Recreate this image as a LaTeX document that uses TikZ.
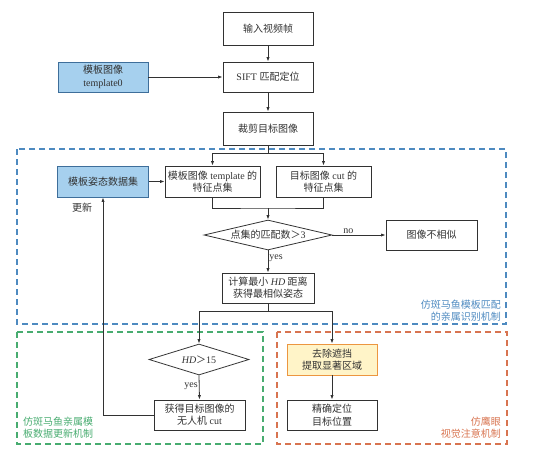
\documentclass[tikz,border=0pt]{standalone}
\usepackage{fontspec}
\setmainfont{Liberation Serif}
\newfontfamily\cjk{Noto Sans CJK SC}
\usepackage{tikz}
\usetikzlibrary{calc,shapes,positioning}
\usetikzlibrary{arrows.meta}
\tikzset{>={Latex[width=3.2pt,length=4.5pt]}}
\definecolor{boxblue}{RGB}{166,208,238}
\definecolor{lineblue}{RGB}{78,138,192}
\definecolor{boxyellow}{RGB}{255,244,200}
\definecolor{lineorange}{RGB}{236,150,64}
\definecolor{framegreen}{RGB}{72,172,112}
\definecolor{frameorange}{RGB}{216,116,80}
\definecolor{ink}{RGB}{50,50,50}

\begin{document}
\begin{tikzpicture}[x=1pt,y=-1pt,font=\fontsize{10}{12.3}\selectfont,text=ink]
        \tikzstyle{bnode} = [thick, draw=ink, rectangle, minimum width=90pt, minimum height=31pt, inner sep=2pt, align=center]
        \tikzstyle{tnode} = [bnode, fill=boxblue, draw=lineblue!80!black]
        \tikzstyle{ynode} = [bnode, fill=boxyellow, draw=lineorange]
        \tikzstyle{dnode} = [thick, draw=ink, diamond, inner sep=0pt, align=center]
        \tikzstyle{frame} = [line width=1.1pt, dash pattern=on 6pt off 4pt]
        \tikzstyle{lab} = [inner sep=1pt, font=\fontsize{10}{12.3}\selectfont\cjk]

        \useasboundingbox (0,0) rectangle (535,451);

        % mechanism frames
        \draw[frame, lineblue] (17,149) rectangle (506,324);
        \draw[frame, framegreen] (17,332) rectangle (263,444);
        \draw[frame, frameorange] (277,332) rectangle (507,444);

        \node[lab, text=lineblue, anchor=east, align=right] (tblue) at (502,311) {仿斑马鱼模板匹配\\的亲属识别机制};
        \node[lab, text=framegreen, anchor=west, align=left] (tgreen) at (22,428) {仿斑马鱼亲属模\\板数据更新机制};
        \node[lab, text=frameorange, anchor=east, align=right] (torange) at (502,428) {仿鹰眼\\视觉注意机制};

        % main column
        \node[bnode, minimum height=33pt] (in) at (268,28.5) {\cjk 输入视频帧};
        \node[tnode, minimum height=30pt] (tpl0) at (103,77) {{\cjk 模板图像}\\template0};
        \node[bnode, minimum height=30pt] (sift) at (268,77) {SIFT {\cjk 匹配定位}};
        \node[bnode, minimum height=33pt] (crop) at (268,128.5) {\cjk 裁剪目标图像};

        \node[tnode, minimum width=91pt] (pose) at (103,181.5) {\cjk 模板姿态数据集};
        \node[bnode, minimum width=95pt] (tfeat) at (212.5,181.5) {{\cjk 模板图像} template {\cjk 的}\\{\cjk 特征点集}};
        \node[bnode, minimum width=95pt] (cfeat) at (323.5,181.5) {{\cjk 目标图像} cut {\cjk 的}\\{\cjk 特征点集}};

        \node[dnode, minimum width=128pt, minimum height=30pt, aspect=4.2] (match) at (268,235) {{\cjk 点集的匹配数＞}3};
        \node[bnode, minimum width=91pt, minimum height=30pt] (diff) at (431.5,235) {\cjk 图像不相似};
        \node[bnode, minimum width=92pt, minimum height=30pt] (hd) at (268,288) {{\cjk 计算最小} \textit{HD} {\cjk 距离}\\{\cjk 获得最相似姿态}};

        \node[dnode, minimum width=100pt, minimum height=31pt, aspect=3.2] (hdtest) at (199,359.5) {\textit{HD}{\cjk ＞}15};
        \node[bnode, minimum width=91pt, minimum height=30pt] (uav) at (199.5,415) {{\cjk 获得目标图像的}\\{\cjk 无人机} cut};
        \node[ynode, minimum height=31pt] (occl) at (332,359.5) {{\cjk 去除遮挡}\\{\cjk 提取显著区域}};
        \node[bnode, minimum height=30pt] (loc) at (332,415) {{\cjk 精确定位}\\{\cjk 目标位置}};

        \coordinate (s1) at (268,153);
        \coordinate (m1) at (268,208);
        \coordinate (s2) at (268,311);

        \draw[->, thick, ink] (in) -- (sift);
        \draw[->, thick, ink] (tpl0) -- (sift);
        \draw[->, thick, ink] (sift) -- (crop);
        \draw[thick, ink] (crop) -- (s1);
        \draw[->, thick, ink] (s1) -| (tfeat.north);
        \draw[->, thick, ink] (s1) -| (cfeat.north);
        \draw[->, thick, ink] (pose) -- (tfeat);
        \draw[thick, ink] (tfeat.south) |- (m1) -| (cfeat.south);
        \draw[->, thick, ink] (m1) -- (match.north);
        \draw[->, thick, ink] (match.east) -- node[lab, above, font=\fontsize{10}{12}\selectfont, pos=0.3] (no) {no} (diff.west);
        \draw[->, thick, ink] (match.south) -- node[lab, right, font=\fontsize{10}{12}\selectfont, pos=0.35] (yes1) {yes} (hd.north);
        \draw[thick, ink] (hd) -- (s2);
        \draw[->, thick, ink] (s2) -| (hdtest.north);
        \draw[->, thick, ink] (s2) -| (occl.north);
        \draw[->, thick, ink] (hdtest.south) -- node[lab, left, font=\fontsize{10}{12}\selectfont, pos=0.45] (yes2) {yes} (uav.north);
        \draw[->, thick, ink] (occl) -- (loc);
        \draw[->, thick, ink] (uav.west) -| (pose.south);
        \node[lab] (upd) at (82,208) {更新};
\end{tikzpicture}
\end{document}
